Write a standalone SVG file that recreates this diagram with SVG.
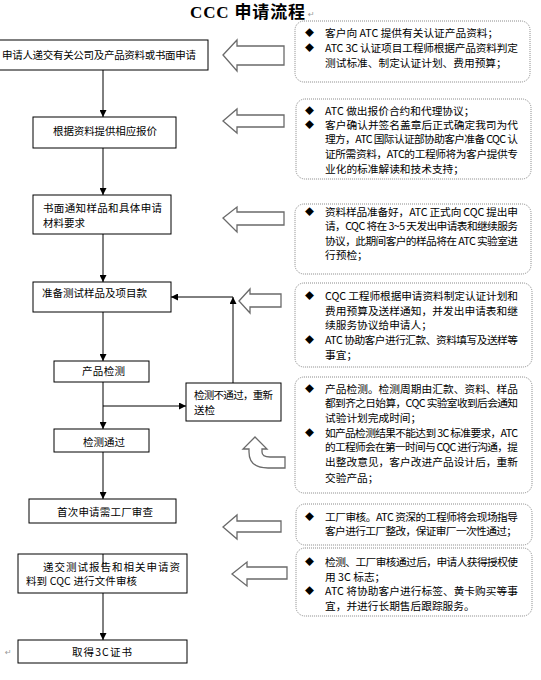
<svg xmlns="http://www.w3.org/2000/svg" width="541" height="680" viewBox="0 0 541 680">
<defs>
<style>
.bx{fill:#fff;stroke:#000;stroke-width:1}
.t{font-family:'Noto Sans CJK SC','Noto Sans CJK JP',sans-serif;font-size:10.5px;fill:#000}
.r{font-size:10.7px}
.bul{font-family:'Noto Sans CJK SC',sans-serif;font-size:9px;fill:#000;text-anchor:middle}
.nt{fill:#fff;stroke:#8a8a8a;stroke-width:1;stroke-dasharray:1 1}
.ba{fill:#fff;stroke:#6a6a6a;stroke-width:1.3;stroke-linejoin:miter}
.cn{fill:none;stroke:#000;stroke-width:1}
.pm{font-family:'DejaVu Sans',sans-serif;font-size:8px;fill:#999}
</style>
<marker id="ah" viewBox="0 0 8 8" refX="8" refY="4" markerWidth="7" markerHeight="7" orient="auto" markerUnits="userSpaceOnUse">
<path d="M0,0 L8,4 L0,8 z" fill="#000"/>
</marker>
</defs>
<rect width="541" height="680" fill="#fff"/>

<g id="title">
<text x="190" y="18" font-family="'Liberation Serif','Noto Sans CJK SC',serif" font-size="17" font-weight="bold" textLength="115">CCC 申请流程</text>
<text class="pm" x="308" y="17">↵</text>
<text class="pm" x="5" y="655">↵</text>
</g>

<g id="connectors">
<path class="cn" d="M103,70 V117" marker-end="url(#ah)"/>
<path class="cn" d="M103,148 V195" marker-end="url(#ah)"/>
<path class="cn" d="M103,234 V282" marker-end="url(#ah)"/>
<path class="cn" d="M103,312 V361" marker-end="url(#ah)"/>
<path class="cn" d="M103,382 V429" marker-end="url(#ah)"/>
<path class="cn" d="M103,406 H186" marker-end="url(#ah)"/>
<path class="cn" d="M233,383 V297" marker-end="url(#ah)"/>
<path class="cn" d="M233,297 H171" marker-end="url(#ah)"/>
<path class="cn" d="M103,452 V499" marker-end="url(#ah)"/>
<path class="cn" d="M103,593 V640" marker-end="url(#ah)"/>
</g>

<g id="n1"><rect class="bx" x="-2" y="40" width="210" height="30"/>
<text class="t" x="2" y="59" textLength="194">申请人递交有关公司及产品资料或书面申请</text></g>
<g id="n2"><rect class="bx" x="33" y="117" width="143" height="31"/>
<text class="t" x="53" y="135" textLength="104">根据资料提供相应报价</text></g>
<g id="n3"><rect class="bx" x="33" y="195" width="138" height="39"/>
<text class="t" x="43" y="212" textLength="119">书面通知样品和具体申请</text>
<text class="t" x="43" y="227">材料要求</text></g>
<g id="n4"><rect class="bx" x="33" y="282" width="138" height="30"/>
<text class="t" x="42" y="297" textLength="105">准备测试样品及项目款</text></g>
<g id="n5"><rect class="bx" x="54" y="361" width="95" height="21"/>
<text class="t" x="82" y="375" textLength="43">产品检测</text></g>
<g id="n6"><rect class="bx" x="186" y="383" width="95" height="38"/>
<text class="t" x="194" y="399" textLength="79">检测不通过，重新</text>
<text class="t" x="194" y="414">送检</text></g>
<g id="n7"><rect class="bx" x="54" y="429" width="95" height="23"/>
<text class="t" x="83" y="446" textLength="42">检测通过</text></g>
<g id="n8"><rect class="bx" x="29" y="499" width="147" height="24"/>
<text class="t" x="57" y="516" textLength="96">首次申请需工厂审查</text></g>
<g id="n9"><rect class="bx" x="18" y="554" width="169" height="39"/>
<path class="cn" d="M103,554 V568"/>
<text class="t" x="43" y="571" textLength="137">递交测试报告和相关申请资</text>
<text class="t" x="26" y="585" textLength="111">料到 CQC 进行文件审核</text></g>
<g id="n10"><rect class="bx" x="18" y="640" width="169" height="23"/>
<text class="t" x="72" y="656" textLength="60">取得3C证书</text></g>

<g id="arrows">
<path class="ba" d="M223,55 L237,40 L237,46 L284,46 L284,65 L237,65 L237,71 Z"/>
<path class="ba" d="M223,121 L237,109 L237,115 L284,115 L284,127 L237,127 L237,133 Z"/>
<path class="ba" d="M223,218 L237,207 L237,212 L284,212 L284,225 L237,225 L237,232 Z"/>
<path class="ba" d="M239,301 L250,289 L250,294 L281,294 L281,307 L250,307 L250,313 Z"/>
<path class="ba" d="M255,437 L267,449 L262,449 L262,452 Q262,457 270,457 L285,457 L285,468 L268,468 Q249,468 249,452 L249,449 L243,449 Z"/>
<path class="ba" d="M223,527 L237,515 L237,521 L281,521 L281,532 L237,532 L237,539 Z"/>
<path class="ba" d="M232,574 L247,562 L247,567 L287,567 L287,579 L247,579 L247,586 Z"/>
</g>

<g id="noteA"><rect class="nt" x="295" y="21" width="235" height="61" rx="9"/>
<text class="bul" x="309.5" y="36">◆</text>
<text class="t r" x="325" y="37">客户向 ATC 提供有关认证产品资料；</text>
<text class="bul" x="309.5" y="51">◆</text>
<text class="t r" x="325" y="52" textLength="193">ATC 3C 认证项目工程师根据产品资料判定</text>
<text class="t r" x="325" y="67">测试标准、制定认证计划、费用预算；</text></g>

<g id="noteB"><rect class="nt" x="296" y="99" width="235" height="80" rx="9"/>
<text class="bul" x="309.5" y="114">◆</text>
<text class="t r" x="325" y="115">ATC 做出报价合约和代理协议；</text>
<text class="bul" x="309.5" y="128">◆</text>
<text class="t r" x="325" y="129" textLength="193">客户确认并签名盖章后正式确定我司为代</text>
<text class="t r" x="325" y="143" textLength="193">理方，ATC 国际认证部协助客户准备 CQC 认</text>
<text class="t r" x="325" y="158" textLength="193">证所需资料，ATC的工程师将为客户提供专</text>
<text class="t r" x="325" y="173">业化的标准解读和技术支持；</text></g>

<g id="noteC"><rect class="nt" x="295" y="204" width="236" height="70" rx="9"/>
<text class="bul" x="309.5" y="215">◆</text>
<text class="t r" x="325" y="216" textLength="193">资料样品准备好，ATC 正式向 CQC 提出申</text>
<text class="t r" x="325" y="230" textLength="193">请，CQC 将在 3~5 天发出申请表和继续服务</text>
<text class="t r" x="325" y="245" textLength="193">协议，此期间客户的样品将在 ATC 实验室进</text>
<text class="t r" x="325" y="259">行预检；</text></g>

<g id="noteD"><rect class="nt" x="295" y="283" width="237" height="84" rx="9"/>
<text class="bul" x="309.5" y="299">◆</text>
<text class="t r" x="325" y="300" textLength="193">CQC 工程师根据申请资料制定认证计划和</text>
<text class="t r" x="325" y="315" textLength="193">费用预算及送样通知，并发出申请表和继</text>
<text class="t r" x="325" y="329">续服务协议给申请人；</text>
<text class="bul" x="309.5" y="343">◆</text>
<text class="t r" x="325" y="344" textLength="193">ATC 协助客户进行汇款、资料填写及送样等</text>
<text class="t r" x="325" y="359">事宜；</text></g>

<g id="noteE"><rect class="nt" x="295" y="377" width="237" height="116" rx="9"/>
<text class="bul" x="309.5" y="392">◆</text>
<text class="t r" x="325" y="393" textLength="193">产品检测。检测周期由汇款、资料、样品</text>
<text class="t r" x="325" y="407" textLength="193">都到齐之日始算，CQC 实验室收到后会通知</text>
<text class="t r" x="325" y="422">试验计划完成时间；</text>
<text class="bul" x="309.5" y="436">◆</text>
<text class="t r" x="325" y="437" textLength="193">如产品检测结果不能达到 3C 标准要求，ATC</text>
<text class="t r" x="325" y="451" textLength="193">的工程师会在第一时间与 CQC 进行沟通，提</text>
<text class="t r" x="325" y="466" textLength="193">出整改意见，客户改进产品设计后，重新</text>
<text class="t r" x="325" y="482">交验产品；</text></g>

<g id="noteF"><rect class="nt" x="296" y="504" width="236" height="41" rx="9"/>
<text class="bul" x="309.5" y="520">◆</text>
<text class="t r" x="325" y="521" textLength="193">工厂审核。ATC 资深的工程师将会现场指导</text>
<text class="t r" x="325" y="535" textLength="192">客户进行工厂整改，保证审厂一次性通过；</text></g>

<g id="noteG"><rect class="nt" x="296" y="548" width="236" height="68" rx="9"/>
<text class="bul" x="309.5" y="565">◆</text>
<text class="t r" x="325" y="566" textLength="193">检测、工厂审核通过后，申请人获得授权使</text>
<text class="t r" x="325" y="581">用 3C 标志；</text>
<text class="bul" x="309.5" y="594">◆</text>
<text class="t r" x="325" y="595" textLength="193">ATC 将协助客户进行标签、黄卡购买等事</text>
<text class="t r" x="325" y="610">宜，并进行长期售后跟踪服务。</text></g>
</svg>
